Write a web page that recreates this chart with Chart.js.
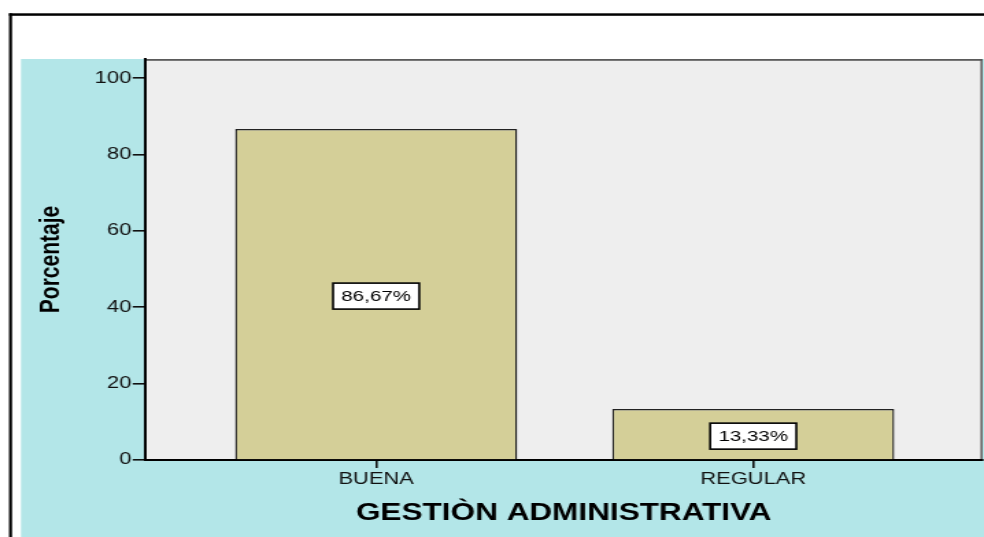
<!DOCTYPE html>
<html>
<head>
<meta charset="utf-8">
<script src="https://cdn.jsdelivr.net/npm/chart.js@4/dist/chart.umd.min.js"></script>
<style>
  html, body { margin: 0; padding: 0; background: #fff; overflow: hidden; }
  /* la imagen original está estirada a lo ancho */
  #wrap { width: 718px; height: 537px; transform: scaleX(1.3705); transform-origin: 0 0; }
</style>
</head>
<body>
<div id="wrap"><canvas id="grafico" width="718" height="537"></canvas></div>
<script>
const categorias = ['BUENA', 'REGULAR'];
const porcentajes = [86.67, 13.33];
const ticksY = [0, 20, 40, 60, 80, 100];
const tituloX = 'GESTIÒN ADMINISTRATIVA';
const tituloY = 'Porcentaje';

const ESCALA = 984 / 718;
const fuente = '"Liberation Sans", Arial, sans-serif';

// fondo, marco y zona gris del gráfico
const fondoPlugin = {
  id: 'fondo',
  beforeDraw(chart) {
    const ctx = chart.ctx;
    const a = chart.chartArea;
    ctx.save();
    ctx.fillStyle = '#ffffff';
    ctx.fillRect(0, 0, chart.width, chart.height);
    ctx.fillStyle = '#b3e6e8';
    ctx.fillRect(21 / ESCALA, a.top, chart.width, chart.height - a.top);
    // marco negro
    ctx.fillStyle = '#000';
    ctx.fillRect(9 / ESCALA, 13.3, 3 / ESCALA, chart.height);
    ctx.fillRect(9 / ESCALA, 13.3, chart.width, 2.5);
    // zona gris
    ctx.fillStyle = '#eeeeee';
    ctx.fillRect(a.left, a.top, a.right - a.left, a.bottom - a.top);
    ctx.fillStyle = '#5a5a5a';
    ctx.fillRect(a.left, a.top, a.right - a.left, 1.8);
    ctx.fillRect(a.right - 1.5, a.top, 1.5, a.bottom - a.top);
    ctx.restore();
  }
};

// cajas con el porcentaje en medio de cada barra
const etiquetasPlugin = {
  id: 'etiquetas',
  afterDatasetsDraw(chart) {
    const ctx = chart.ctx;
    const meta = chart.getDatasetMeta(0);
    ctx.save();
    ctx.font = '15px ' + fuente;
    ctx.textAlign = 'center';
    ctx.textBaseline = 'middle';
    meta.data.forEach((barra, i) => {
      const texto = porcentajes[i].toFixed(2).replace('.', ',') + '%';
      const cx = barra.x;
      const cy = (barra.y + barra.base) / 2 + 2;
      const w = ctx.measureText(texto).width + 12;
      const h = 26;
      ctx.fillStyle = '#fff';
      ctx.fillRect(cx - w / 2, cy - h / 2, w, h);
      ctx.strokeStyle = '#000';
      ctx.lineWidth = 1.6;
      ctx.strokeRect(cx - w / 2, cy - h / 2, w, h);
      ctx.fillStyle = '#000';
      ctx.fillText(texto, cx, cy + 1);
    });
    ctx.restore();
  }
};

new Chart(document.getElementById('grafico'), {
  type: 'bar',
  data: {
    datasets: [{
      data: categorias.map((c, i) => ({ x: i, y: porcentajes[i] })),
      backgroundColor: '#d4cf98',
      borderColor: '#222',
      borderWidth: 1.4,
      barPercentage: 0.748,
      categoryPercentage: 1
    }]
  },
  options: {
    responsive: false,
    animation: false,
    layout: { padding: { top: 59, right: 718 - 982.5 / ESCALA, left: 0, bottom: 0 } },
    plugins: { legend: { display: false }, tooltip: { enabled: false } },
    scales: {
      x: {
        type: 'linear',
        min: -0.613,
        max: 1.608,
        offset: false,
        afterBuildTicks: s => { s.ticks = categorias.map((c, i) => ({ value: i })); },
        afterFit: s => { s.height = 77; },
        grid: { offset: false, drawOnChartArea: false, tickLength: 8, color: '#111', lineWidth: 1.6 },
        border: { color: '#000', width: 2 },
        ticks: {
          callback: v => categorias[v],
          color: '#111',
          font: { family: fuente, size: 16 },
          padding: 2,
          maxRotation: 0,
          autoSkip: false
        },
        title: {
          display: true,
          text: tituloX,
          color: '#000',
          font: { family: fuente, size: 23, weight: 'bold' },
          padding: { top: 0, bottom: 10 }
        }
      },
      y: {
        min: 0,
        max: 105,
        afterBuildTicks: s => { s.ticks = ticksY.map(v => ({ value: v })); },
        afterFit: s => { s.width = 145 / ESCALA; },
        grid: { drawOnChartArea: false, tickLength: 9, color: '#111', lineWidth: 1.6 },
        border: { color: '#000', width: 2 },
        ticks: { color: '#111', font: { family: fuente, size: 16 }, padding: 1 },
        title: {
          display: true,
          text: tituloY,
          color: '#000',
          font: { family: fuente, size: 21, weight: 'bold' },
          padding: { top: 25, bottom: 0 }
        }
      }
    }
  },
  plugins: [fondoPlugin, etiquetasPlugin]
});
</script>
</body>
</html>
